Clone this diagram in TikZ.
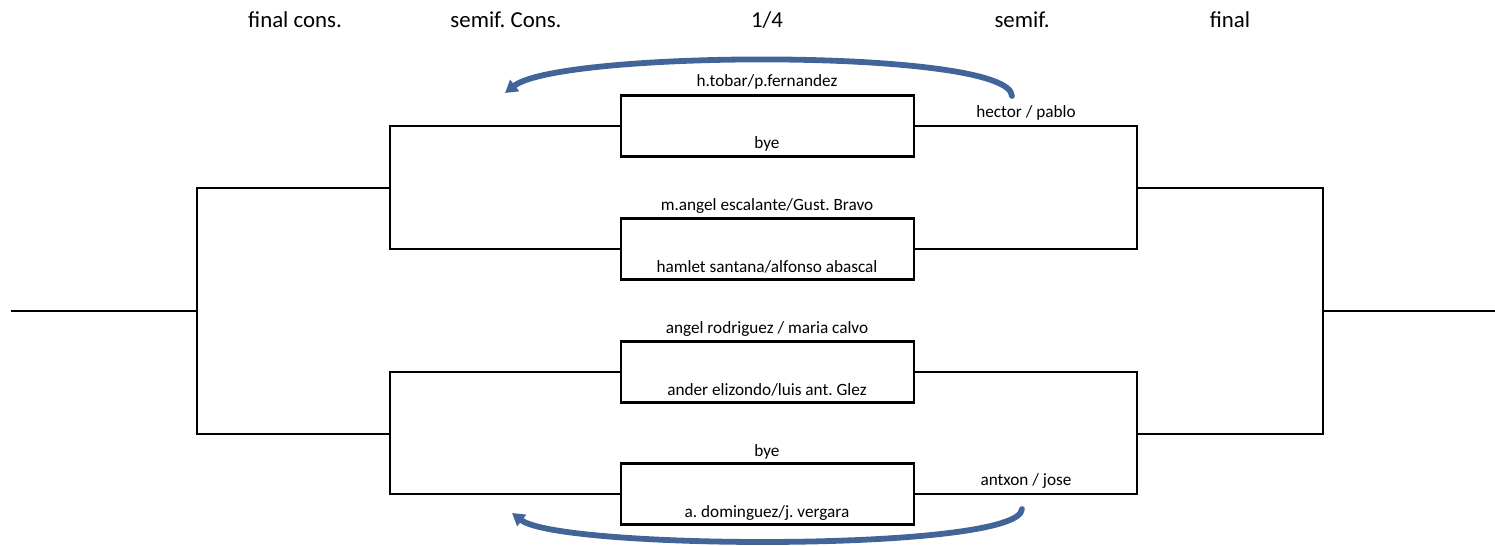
\documentclass[tikz,border=0pt]{standalone}
\usepackage{fontspec}
\setmainfont{Carlito}
\usetikzlibrary{arrows.meta}
\frenchspacing

\tikzset{
  match/.style={draw=black, line width=1.4pt, minimum width=5.86cm, minimum height=1.22cm, inner sep=0pt},
  pair/.style={font=\fontsize{9.8}{11}\selectfont, inner sep=0pt},
  stage/.style={font=\fontsize{13}{15}\selectfont, inner sep=0pt},
  bracket/.style={black, line width=1.4pt},
  loser/.style={draw=loserblue, line width=3.3pt, line cap=round, -{Triangle[length=7pt,width=8pt]}},
}
\definecolor{loserblue}{RGB}{65,101,152}

\begin{document}
\begin{tikzpicture}[x=0.02cm, y=-0.02cm]
        \useasboundingbox (0,0) rectangle (1495,545);

        % rounds
        \node[stage] (hfc) at (295,20) {final cons.};
        \node[stage] (hsc) at (506,20) {semif. Cons.};
        \node[stage] (hq)  at (767,20) {1/4};
        \node[stage] (hs)  at (1022,20) {semif.};
        \node[stage] (hf)  at (1230,20) {final};

        % quarter finals
        \node[match] (q1) at (767.5,126) {};
        \node[match] (q2) at (767.5,249) {};
        \node[match] (q3) at (767.5,372) {};
        \node[match] (q4) at (767.5,494) {};

        \node[pair] (q1a) at (767,82)  {h.tobar/p.fernandez};
        \node[pair] (q1b) at (767,144) {bye};
        \node[pair] (q2a) at (767,206) {m.angel escalante/Gust. Bravo};
        \node[pair] (q2b) at (767,267) {hamlet santana/alfonso abascal};
        \node[pair] (q3a) at (767,329) {angel rodriguez / maria calvo};
        \node[pair] (q3b) at (767,390) {ander elizondo/luis ant. Glez};
        \node[pair] (q4a) at (767,452) {bye};
        \node[pair] (q4b) at (767,513) {a. dominguez/j. vergara};

        % consolation side (left)
        \coordinate (sl1) at (390,126);
        \coordinate (sl2) at (390,249);
        \coordinate (sl3) at (390,372);
        \coordinate (sl4) at (390,494);
        \coordinate (fl1) at (197,188);
        \coordinate (fl2) at (197,434);
        \coordinate (w)   at (11,311);
        \draw[bracket] (q1.west) -- (sl1) -- (sl2) -- (q2.west);
        \draw[bracket] (q3.west) -- (sl3) -- (sl4) -- (q4.west);
        \draw[bracket] (fl1 -| sl1) -- (fl1) -- (fl2) -- (fl2 -| sl3);
        \draw[bracket] (w) -- (w -| fl1);

        % winners side (right)
        \coordinate (sr1) at (1137,126);
        \coordinate (sr2) at (1137,249);
        \coordinate (sr3) at (1137,372);
        \coordinate (sr4) at (1137,494);
        \coordinate (fr1) at (1323,188);
        \coordinate (fr2) at (1323,434);
        \coordinate (e)   at (1495,311);
        \draw[bracket] (q1.east) -- (sr1) -- (sr2) -- (q2.east);
        \draw[bracket] (q3.east) -- (sr3) -- (sr4) -- (q4.east);
        \draw[bracket] (fr1 -| sr1) -- (fr1) -- (fr2) -- (fr2 -| sr3);
        \draw[bracket] (e) -- (e -| fr1);

        \node[pair] (s1) at (1026,113) {hector / pablo};
        \node[pair] (s2) at (1026,481) {antxon / jose};

        % losers go to consolation
        \coordinate (c1) at (1012,96);
        \coordinate (c2) at (505,93);
        \coordinate (c3) at (1022,509);
        \coordinate (c4) at (512,513);
        \draw[loser] (c1) .. controls (1010,48) and (560,50) .. (c2);
        \draw[loser] (c3) .. controls (1020,552) and (560,550) .. (c4);
    \end{tikzpicture}
\end{document}
